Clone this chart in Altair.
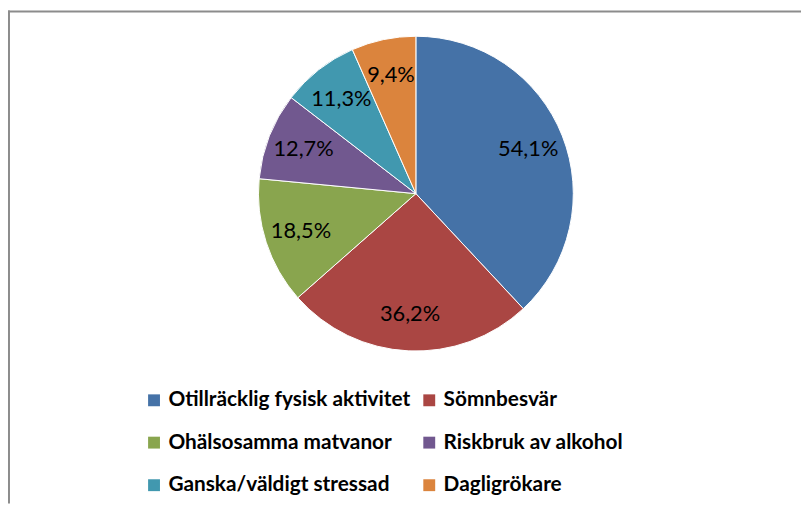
import altair as alt
import pandas as pd

categories = ["Otillräcklig fysisk aktivitet", "Sömnbesvär", "Ohälsosamma matvanor",
              "Riskbruk av alkohol", "Ganska/väldigt stressad", "Dagligrökare"]
values = [54.1, 36.2, 18.5, 12.7, 11.3, 9.4]
labels = ["54,1%", "36,2%", "18,5%", "12,7%", "11,3%", "9,4%"]
colors = ["#4572A7", "#AA4643", "#89A54E", "#71588F", "#4198AF", "#DB843D"]

df = pd.DataFrame({"kategori": categories, "varde": values, "etikett": labels,
                   "ordning": list(range(len(categories)))})

# legend is filled column by column: reorder so rows read pairwise as in the original
legend_order = [0, 2, 4, 1, 3, 5]
dom = [categories[i] for i in legend_order]
rng = [colors[i] for i in legend_order]

W, H = 801, 498
CX, CY = 412, 185
R = 159

base = alt.Chart(df).encode(
    theta=alt.Theta("varde:Q", stack=True),
    order=alt.Order("ordning:Q"),
    x=alt.value(CX),
    y=alt.value(CY),
)

pie = base.mark_arc(outerRadius=R, stroke="white", strokeWidth=1).encode(
    color=alt.Color(
        "kategori:N",
        scale=alt.Scale(domain=dom, range=rng),
        legend=alt.Legend(
            title=None, orient="none", legendX=137, legendY=383, columns=2,
            symbolType="square", symbolSize=144, symbolStrokeWidth=0,
            labelFont="Lato", labelFontSize=21, labelFontWeight="bold",
            labelColor="black", rowPadding=21, columnPadding=8, labelOffset=4,
            padding=0, labelLimit=400,
        ),
    )
)

text = base.mark_text(radius=122, font="Lato", fontSize=22, color="black").encode(
    text="etikett:N"
)

frame = pd.DataFrame({"a": [0]})
top_rule = alt.Chart(frame).mark_rule(color="#8c8c8c", strokeWidth=2).encode(
    x=alt.value(0), x2=alt.value(W), y=alt.value(1)
)
left_rule = alt.Chart(frame).mark_rule(color="#8c8c8c", strokeWidth=2).encode(
    x=alt.value(1), y=alt.value(0), y2=alt.value(H)
)

chart = alt.layer(top_rule, left_rule, pie, text).properties(
    width=W, height=H, autosize=alt.AutoSizeParams(type="none"), padding=0,
    background="white",
).configure_view(stroke=None)

chart.save("out.html", embed_options={"renderer": "svg", "actions": False})
